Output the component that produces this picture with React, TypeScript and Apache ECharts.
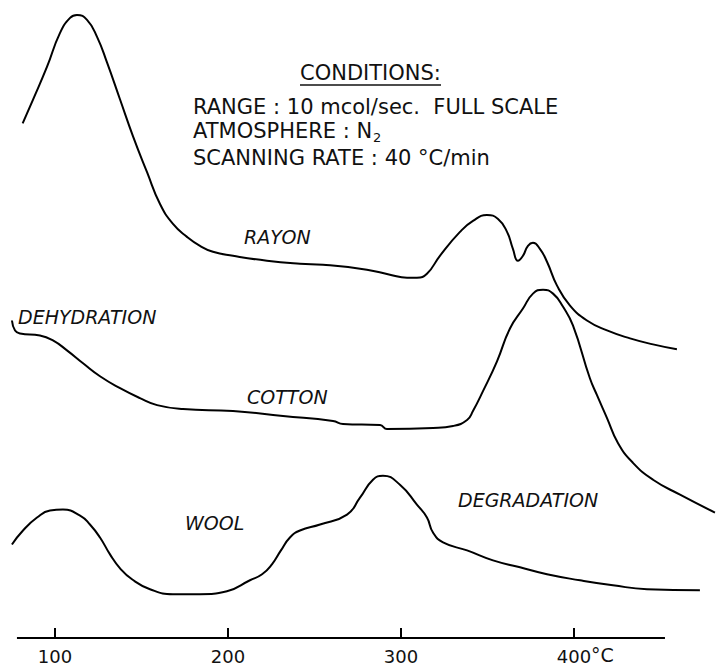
import React, { useEffect, useRef } from "react";
import * as echarts from "echarts";

// Temperature (°C) and DSC deflection (arbitrary units above baseline axis)
const rayonT = [81.3, 87.3, 95.4, 102.9, 108.7, 112.7, 118.5, 124.3, 130.1, 137.6, 145.1, 153.2, 160.7, 168.2, 176.3, 183.8, 191.3, 202.9, 222.5, 241.6, 254.9, 280.3, 293.6, 303.5, 309.2, 315.0, 322.5, 334.1, 341.6, 349.7, 356.1, 361.3, 364.7, 367.6, 370.5, 373.4, 376.3, 380.3, 384.4, 390.2, 397.7, 407.5, 419.1, 432.4, 445.7, 459.5];
const rayonV = [517, 541, 574, 608, 623, 626, 621, 604, 578, 541, 504, 468, 436, 416, 403, 394, 388, 384, 379, 376, 375, 370, 365, 362, 362, 366, 384, 408, 419, 425, 421, 408, 391, 379, 384, 394, 397, 391, 378, 354, 334, 319, 309, 301, 295, 290];

const cottonT = [75.1, 76.9, 79.8, 91.3, 98.8, 106.9, 116.2, 126.0, 137.6, 149.1, 159.0, 174.0, 202.9, 231.8, 260.7, 266.5, 287.9, 291.9, 318.5, 330.1, 338.2, 341.6, 347.4, 355.5, 363.0, 370.5, 376.3, 382.1, 387.9, 393.6, 399.4, 409.2, 413.3, 419.1, 425.4, 434.1, 445.7, 461.3, 481.5];
const cottonV = [319, 309, 306, 304, 299, 289, 276, 263, 251, 241, 234, 230, 228, 223, 218, 215, 214, 210, 211, 213, 219, 228, 248, 278, 311, 331, 346, 350, 346, 333, 314, 261, 244, 221, 196, 176, 159, 144, 126];

const woolT = [75.1, 81.5, 89.6, 97.1, 104.6, 114.5, 120.2, 126.0, 131.8, 137.6, 144.5, 154.9, 168.2, 183.8, 199.4, 212.7, 219.7, 225.4, 230.6, 235.8, 241.6, 253.2, 268.8, 276.3, 283.8, 289.6, 299.4, 309.2, 315.0, 318.5, 324.3, 338.2, 353.2, 368.8, 384.4, 403.5, 422.5, 442.2, 472.8];
const woolV = [94, 108, 121, 128, 129, 123, 114, 101, 84, 70, 59, 49, 44, 44, 47, 58, 64, 74, 88, 101, 108, 114, 124, 141, 159, 163, 154, 134, 121, 106, 96, 88, 78, 71, 64, 58, 53, 49, 48];

const tickValues = [100, 200, 300, 400];
const axisLineT = [78, 452.6];
const viewMin = 68.2;
const viewMax = 482.1;

const curveLabels = ["RAYON", "DEHYDRATION", "COTTON", "WOOL", "DEGRADATION"];
const conditionLines = [
  "CONDITIONS:",
  "RANGE : 10 mcol/sec.  FULL SCALE",
  "ATMOSPHERE : N",
  "SCANNING RATE : 40 °C/min",
];

const zip = (xs: number[], ys: number[]) => xs.map((x, i) => [x, ys[i]]);

export default function App() {
  const ref = useRef<HTMLDivElement>(null);
  useEffect(() => {
    if (!ref.current) return;
    const chart = echarts.init(ref.current, undefined, { renderer: "svg" });
    const lineStyle = { color: "#000", width: 2 };
    const mkSeries = (name: string, data: number[][], smooth: number) => ({
      name,
      type: "line",
      data,
      smooth,
      showSymbol: false,
      symbol: "none",
      lineStyle,
      silent: true,
    });
    const condFont = { fontFamily: "DejaVu Sans", fontSize: 21, fill: "#111" };
    const labFont = { fontFamily: "DejaVu Sans", fontStyle: "italic", fontSize: 19, fill: "#111" };
    chart.setOption({
      animation: false,
      backgroundColor: "#fff",
      grid: { left: 0, right: 0, top: 0, bottom: 24 },
      xAxis: {
        type: "value",
        min: viewMin,
        max: viewMax,
        splitLine: { show: false },
        axisLine: { show: false },
        axisTick: {
          show: true,
          inside: true,
          length: 10,
          customValues: tickValues,
          lineStyle: { color: "#000", width: 2 },
        },
        axisLabel: {
          show: true,
          customValues: tickValues,
          margin: 9,
          color: "#111",
          fontFamily: "DejaVu Sans",
          fontSize: 18,
          formatter: (v: number) => String(v),
        },
      },
      yAxis: { type: "value", min: 0, max: 641, show: false },
      series: [
        mkSeries("Rayon", zip(rayonT, rayonV), 0.5),
        mkSeries("Cotton", zip(cottonT, cottonV), 0.5),
        mkSeries("Wool", zip(woolT, woolV), 0.5),
        {
          name: "axis",
          type: "line",
          data: axisLineT.map((t) => [t, 0]),
          showSymbol: false,
          symbol: "none",
          lineStyle: { color: "#000", width: 2 },
          silent: true,
        },
      ],
      graphic: [
        { type: "text", x: 300, y: 73, style: { ...condFont, text: conditionLines[0], textVerticalAlign: "middle" } },
        { type: "line", shape: { x1: 300, y1: 85, x2: 441, y2: 85 }, style: { stroke: "#111", lineWidth: 1.5 } },
        { type: "text", x: 193, y: 107, style: { ...condFont, text: conditionLines[1], textVerticalAlign: "middle" } },
        { type: "text", x: 193, y: 131, style: { ...condFont, text: conditionLines[2], textVerticalAlign: "middle" } },
        { type: "text", x: 373, y: 137, style: { ...condFont, fontSize: 13, text: "2", textVerticalAlign: "middle" } },
        { type: "text", x: 193, y: 158, style: { ...condFont, text: conditionLines[3], textVerticalAlign: "middle" } },
        { type: "text", x: 244, y: 237, style: { ...labFont, text: curveLabels[0], textVerticalAlign: "middle" } },
        { type: "text", x: 18, y: 317, style: { ...labFont, text: curveLabels[1], textVerticalAlign: "middle" } },
        { type: "text", x: 247, y: 397, style: { ...labFont, text: curveLabels[2], textVerticalAlign: "middle" } },
        { type: "text", x: 185, y: 523, style: { ...labFont, text: curveLabels[3], textVerticalAlign: "middle" } },
        { type: "text", x: 458, y: 500, style: { ...labFont, text: curveLabels[4], textVerticalAlign: "middle" } },
        { type: "text", x: 591, y: 655, style: { ...condFont, fontSize: 19, text: "°C", textVerticalAlign: "middle" } },
      ],
    });
    return () => chart.dispose();
  }, []);
  return (
    <div
      ref={ref}
      style={{ position: "fixed", left: 0, top: 0, width: 716, height: 665, background: "#fff" }}
    />
  );
}
